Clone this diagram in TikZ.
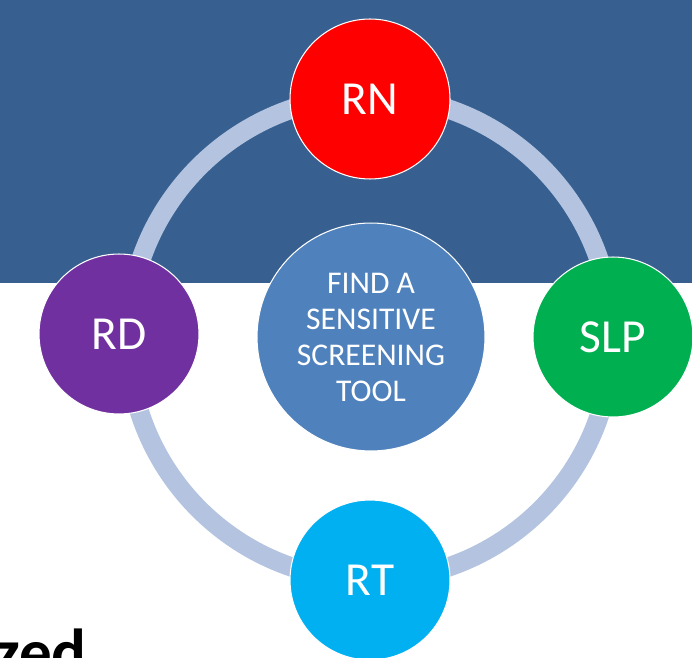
\documentclass[tikz,border=0pt]{standalone}
\usepackage{fontspec}
\setmainfont{Carlito}
\usepackage{tikz}
\usetikzlibrary{positioning}
\definecolor{bandblue}{RGB}{55,96,145}
\definecolor{hubblue}{RGB}{79,129,189}
\definecolor{ringblue}{RGB}{180,196,224}
\definecolor{rnred}{RGB}{255,0,0}
\definecolor{slpgreen}{RGB}{0,176,80}
\definecolor{rtcyan}{RGB}{0,176,240}
\definecolor{rdpurple}{RGB}{112,48,160}

\begin{document}
\begin{tikzpicture}[
    x=0.02cm, y=-0.02cm,
    role/.style={circle, draw=white, line width=0.6pt, minimum size=3.2cm, text=white, font=\fontsize{27}{32}\selectfont},
    hub/.style={circle, draw=white, line width=0.6pt, fill=hubblue, minimum size=4.56cm, text=white, align=center, font=\fontsize{18}{20.5}\selectfont},
    ring/.style={ringblue, line width=11pt}
]
\useasboundingbox (0,0) rectangle (692,658);
\clip (0,0) rectangle (692,658);
% header band
\fill[bandblue] (0,0) rectangle (692,283);
% cycle ring behind the circles
\coordinate (mid) at (370,338);
\draw[ring] (mid) circle[radius=242];
\node[hub] (tool) at (371,337) {FIND A\\SENSITIVE\\SCREENING\\TOOL};
\node[role, fill=rnred] (rn) at (370,99) {RN};
\node[role, fill=slpgreen] (slp) at (613,337) {SLP};
\node[role, fill=rtcyan] (rt) at (370,580) {RT};
\node[role, fill=rdpurple] (rd) at (119,334) {RD};
% title text running off the bottom edge
\node[font=\fontsize{37}{44}\selectfont\bfseries, anchor=base east, inner sep=0pt] (word) at (87,674) {zed};
\end{tikzpicture}
\end{document}
